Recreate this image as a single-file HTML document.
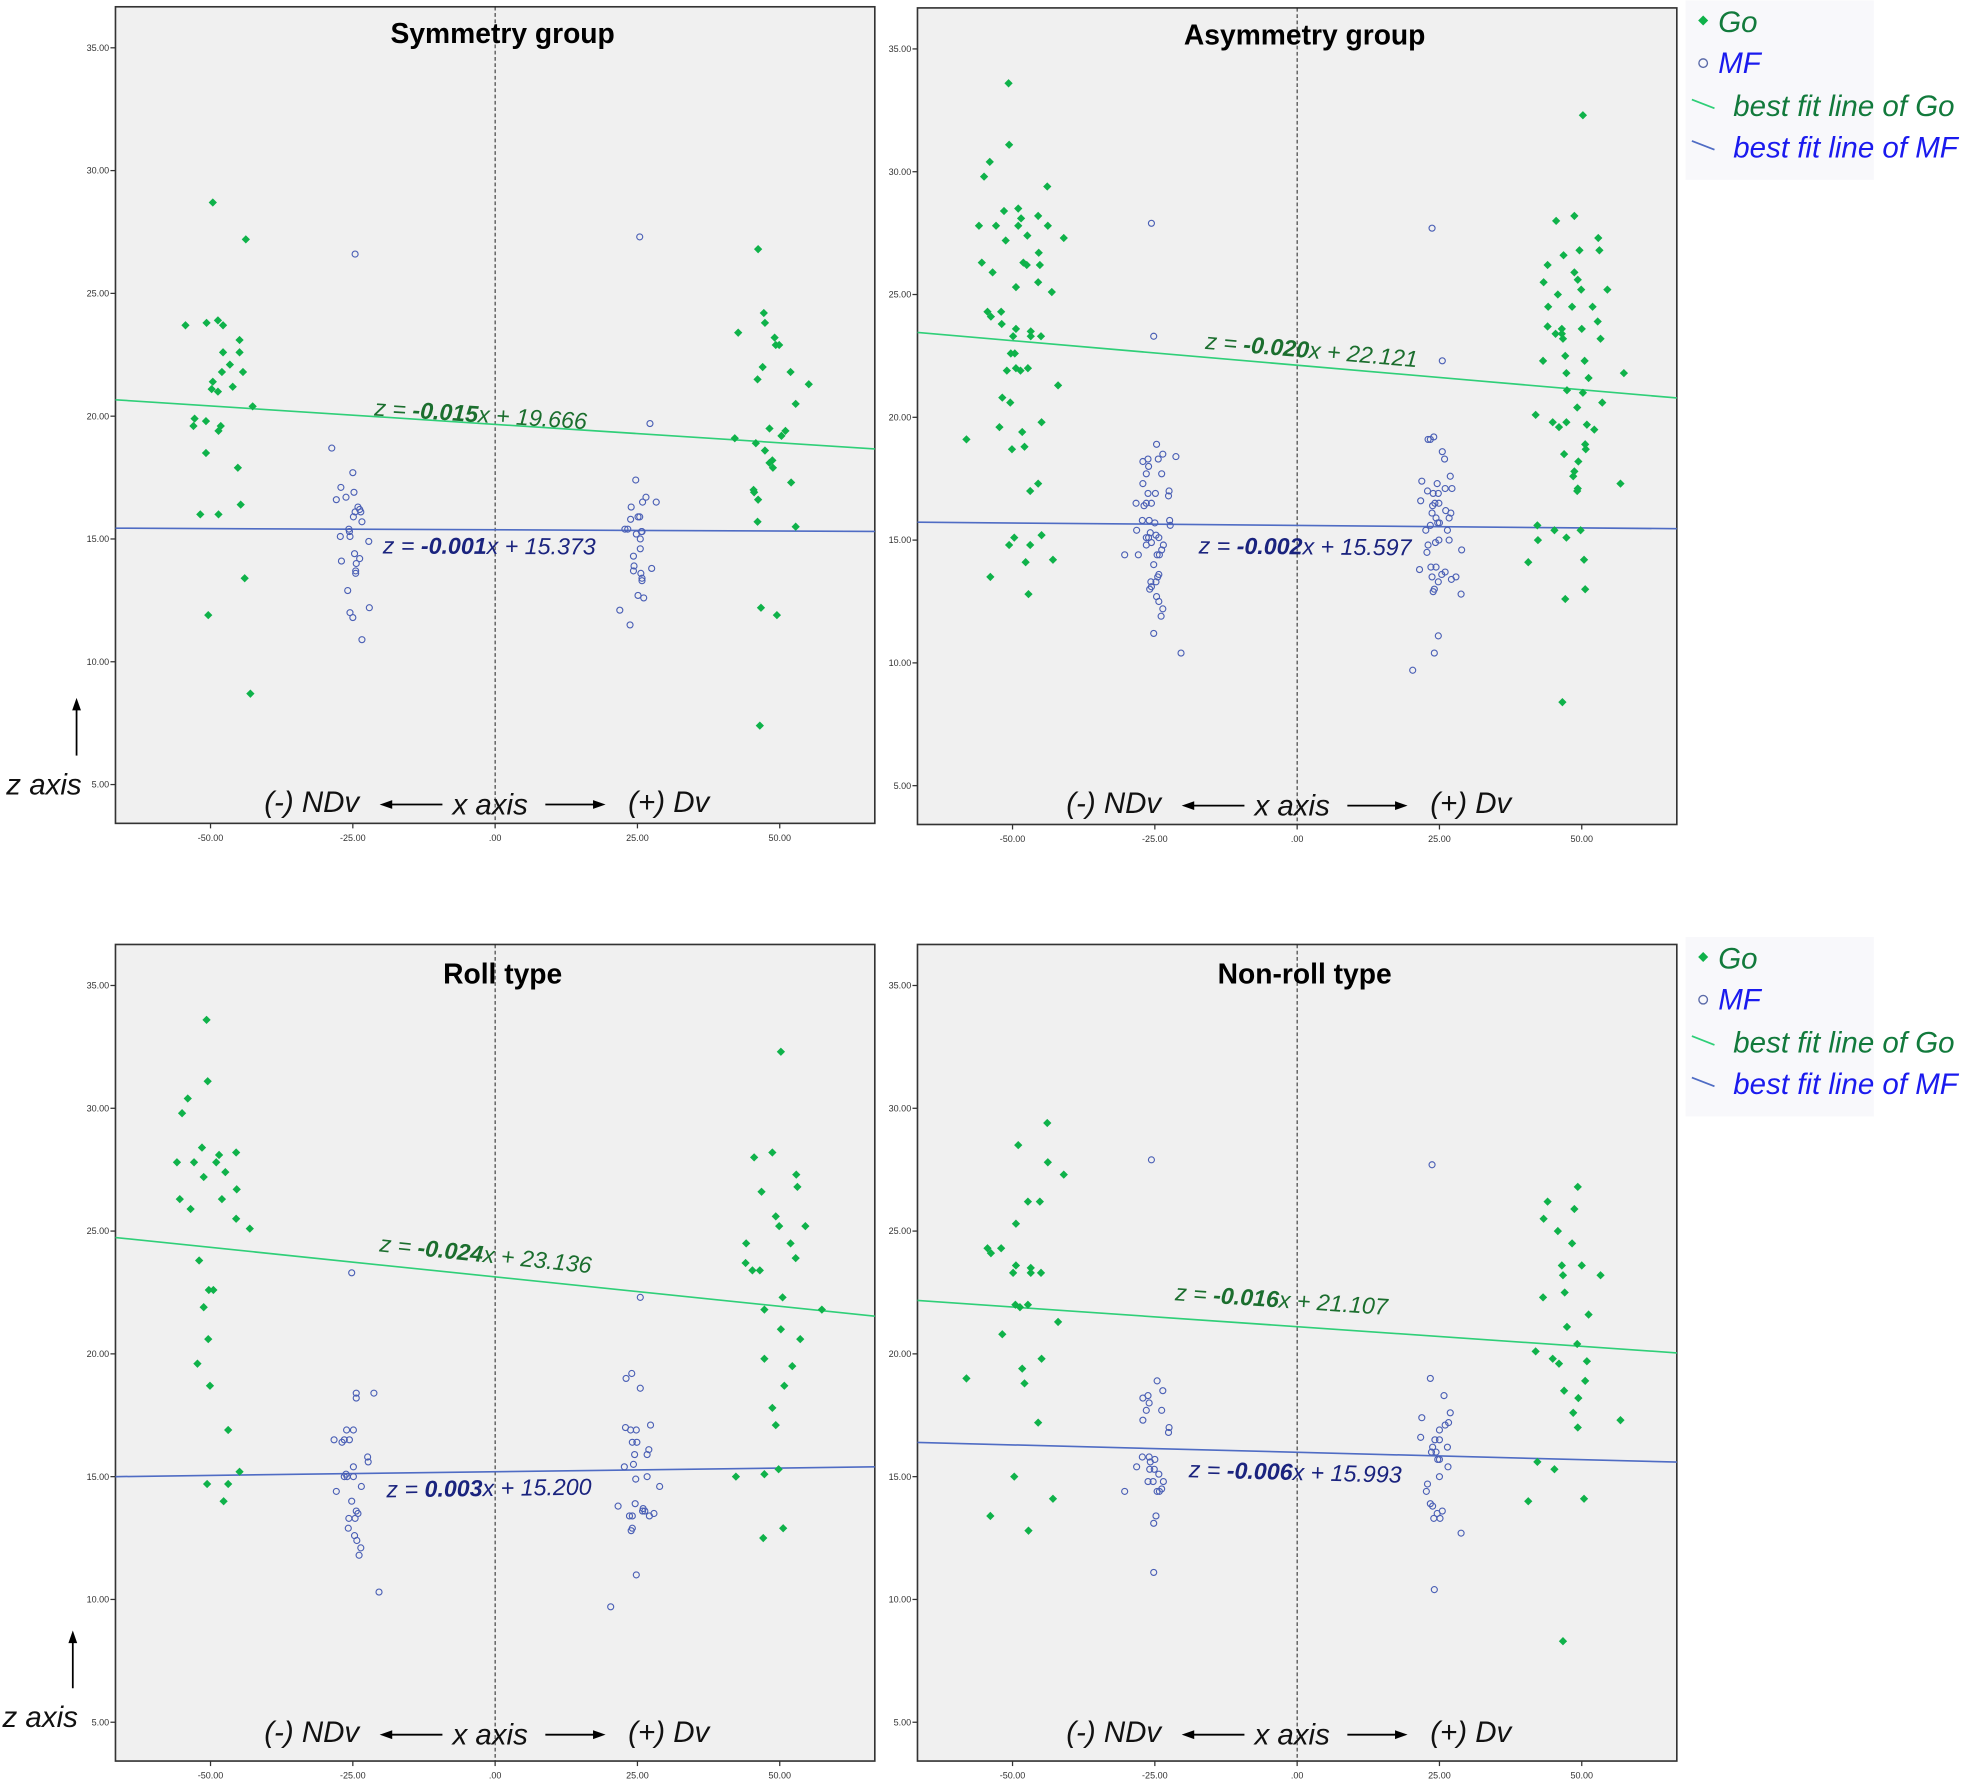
<!DOCTYPE html>
<html><head><meta charset="utf-8"><style>
html,body{margin:0;padding:0;background:#fff;}
svg{display:block;font-family:"Liberation Sans",Arial,sans-serif;}
</style></head><body>
<svg id="chart" width="1968" height="1779" viewBox="0 0 1568 1417.4" xmlns="http://www.w3.org/2000/svg"></svg>
<script>
// ---- data (x in x-axis units, z in z-axis units) ----
const xTicks = [-50, -25, 0, 25, 50];
const xTickLabels = ["-50.00", "-25.00", ".00", "25.00", "50.00"];
const zTicks = [5, 10, 15, 20, 25, 30, 35];
const zTickLabels = ["5.00", "10.00", "15.00", "20.00", "25.00", "30.00", "35.00"];
const panelTitles = ["Symmetry group", "Asymmetry group", "Roll type", "Non-roll type"];
const goSlopes = [-0.015, -0.020, -0.024, -0.016];
const goIntercepts = [19.666, 22.121, 23.136, 21.107];
const mfSlopes = [-0.001, -0.002, 0.003, -0.006];
const mfIntercepts = [15.373, 15.597, 15.200, 15.993];
const goSlopeLabels = ["-0.015", "-0.020", "-0.024", "-0.016"];
const goIntLabels = ["19.666", "22.121", "23.136", "21.107"];
const mfSlopeLabels = ["-0.001", "-0.002", "0.003", "-0.006"];
const mfIntLabels = ["15.373", "15.597", "15.200", "15.993"];

const symGo = [[-49.6,28.7],[-43.8,27.2],[-54.4,23.7],[-50.7,23.8],[-48.7,23.9],[-47.8,23.7],[-44.9,23.1],[-47.8,22.6],[-44.9,22.6],[-46.6,22.1],[-48,21.8],[-44.3,21.8],[-49.6,21.4],[-46.1,21.2],[-49.8,21.1],[-48.7,21.0],[-42.6,20.4],[-52.8,19.9],[-53,19.6],[-50.8,19.8],[-48.2,19.6],[-48.6,19.4],[-50.8,18.5],[-45.2,17.9],[-44.7,16.4],[-51.8,16.0],[-48.6,16.0],[-44,13.4],[-50.4,11.9],[-43,8.7],
[46.2,26.8],[47.2,24.2],[47.4,23.8],[42.7,23.4],[49.1,23.2],[49.3,22.9],[49.9,22.9],[47,22],[51.9,21.8],[46.1,21.5],[55.1,21.3],[52.8,20.5],[48.2,19.5],[51,19.4],[50.3,19.2],[42.1,19.1],[45.8,18.9],[47.4,18.6],[48.7,18.2],[48.2,18.1],[48.8,17.9],[52,17.3],[45.4,17.0],[45.5,16.9],[46.2,16.6],[46.1,15.7],[52.8,15.5],[46.7,12.2],[49.5,11.9],[46.5,7.4]];
const symMF = [[-24.6,26.6],[-28.7,18.7],[-25,17.7],[-27.1,17.1],[-24.8,16.9],[-27.9,16.6],[-26.2,16.7],[-24.1,16.3],[-23.8,16.2],[-24.6,16.1],[-23.6,16.1],[-24.9,15.9],[-23.4,15.7],[-25.7,15.4],[-25.6,15.3],[-27.2,15.1],[-25.5,15.1],[-22.2,14.9],[-24.7,14.4],[-23.8,14.2],[-27,14.1],[-24.4,14.0],[-24.5,13.7],[-24.5,13.6],[-25.9,12.9],[-25.5,12.0],[-25,11.8],[-22.1,12.2],[-23.4,10.9],
[25.4,27.3],[27.2,19.7],[24.7,17.4],[23.9,16.3],[26.5,16.7],[25.9,16.5],[28.3,16.5],[25.1,15.9],[25.4,15.9],[23.8,15.8],[22.8,15.4],[23.3,15.4],[25.7,15.3],[25.8,15.3],[24.8,15.2],[25.5,15.0],[25.5,14.6],[24.3,14.3],[24.4,13.9],[24.3,13.7],[27.5,13.8],[25.6,13.6],[25.8,13.4],[25.8,13.3],[25.1,12.7],[26.1,12.6],[21.9,12.1],[23.7,11.5]];
const asymGo = [[-50.7,33.6],[-50.6,31.1],[-54,30.4],[-55,29.8],[-43.9,29.4],[-49,28.5],[-51.5,28.4],[-48.5,28.1],[-45.5,28.2],[-55.9,27.8],[-52.9,27.8],[-49,27.8],[-43.8,27.8],[-47.4,27.4],[-41,27.3],[-51.2,27.2],[-45.4,26.7],[-55.4,26.3],[-48.1,26.3],[-47.5,26.2],[-45.2,26.2],[-53.5,25.9],[-45.5,25.5],[-49.4,25.3],[-43.1,25.1],[-54.4,24.3],[-52,24.3],[-53.8,24.1],[-51.9,23.8],[-49.4,23.6],[-46.8,23.5],[-49.9,23.3],[-46.8,23.3],[-45,23.3],[-50.3,22.6],[-49.6,22.6],[-47.3,22.0],[-49.4,22.0],[-51,21.9],[-48.6,21.9],[-42,21.3],[-51.8,20.8],[-50.4,20.6],[-58.1,19.1],[-52.3,19.6],[-44.9,19.8],[-48.3,19.4],[-47.9,18.8],[-50.1,18.7],[-45.5,17.3],[-46.9,17.0],[-49.7,15.1],[-50.6,14.8],[-46.9,14.8],[-44.9,15.2],[-47.7,14.1],[-42.9,14.2],[-53.9,13.5],[-47.2,12.8],
[50.2,32.3],[45.5,28.0],[48.7,28.2],[52.9,27.3],[49.6,26.8],[53.1,26.8],[46.8,26.6],[44,26.2],[48.7,25.9],[49.3,25.6],[43.3,25.5],[49.9,25.2],[54.5,25.2],[45.8,25.0],[44.1,24.5],[48.3,24.5],[51.9,24.5],[52.8,23.9],[44,23.7],[46.5,23.6],[50,23.6],[45.4,23.4],[46.5,23.4],[46.7,23.2],[53.3,23.2],[47.1,22.5],[43.2,22.3],[50.5,22.3],[47.3,21.8],[57.4,21.8],[51.2,21.6],[47.4,21.1],[50.2,21.0],[53.6,20.6],[49.2,20.4],[41.9,20.1],[44.9,19.8],[47.3,19.8],[50.9,19.7],[46,19.6],[52.2,19.5],[50.6,18.9],[50.7,18.7],[46.9,18.5],[49.4,18.2],[48.7,17.8],[48.5,17.6],[56.8,17.3],[49.3,17.1],[49.2,17.0],[42.2,15.6],[45.2,15.4],[49.8,15.4],[42.3,15.0],[47.3,15.1],[40.6,14.1],[50.4,14.2],[50.6,13.0],[47.1,12.6],[46.6,8.4]];
const asymMF = [[-25.6,27.9],[-25.2,23.3],[-24.7,18.9],[-23.6,18.5],[-21.3,18.4],[-24.4,18.3],[-26.2,18.3],[-27.1,18.2],[-26.1,18.0],[-26.5,17.7],[-23.8,17.7],[-27.1,17.3],[-22.5,17.0],[-26.2,16.9],[-24.9,16.9],[-22.6,16.8],[-28.3,16.5],[-26.9,16.4],[-25.6,16.5],[-26.5,16.5],[-22.4,15.8],[-27.2,15.8],[-26,15.8],[-25,15.7],[-22.3,15.6],[-28.2,15.4],[-25.8,15.3],[-24.8,15.2],[-26.5,15.1],[-26.1,15.1],[-24.3,15.1],[-25.6,14.9],[-23.5,14.8],[-26.5,14.8],[-23.8,14.6],[-24.6,14.4],[-30.3,14.4],[-27.9,14.4],[-24.2,14.4],[-25.2,14.0],[-24.3,13.6],[-24.5,13.5],[-25.7,13.3],[-24.8,13.3],[-25.6,13.1],[-25.9,13.0],[-24.7,12.7],[-24.3,12.5],[-23.6,12.2],[-23.9,11.9],[-25.2,11.2],[-20.4,10.4],
[23.7,27.7],[25.5,22.3],[24,19.2],[23,19.1],[23.4,19.1],[25.5,18.6],[25.9,18.3],[26.9,17.6],[21.9,17.4],[24.6,17.3],[27.2,17.1],[26,17.1],[22.9,17.0],[23.9,16.9],[24.8,16.9],[24.2,16.5],[24.9,16.5],[21.7,16.6],[23.8,16.4],[26.1,16.2],[23.7,16.1],[27,16.1],[24.4,15.9],[26.7,15.9],[24.7,15.7],[25,15.7],[23.4,15.6],[22.6,15.4],[26.4,15.4],[24.9,15.0],[26.7,15.0],[24.3,14.9],[23,14.8],[22.8,14.5],[28.9,14.6],[21.5,13.8],[23.5,13.9],[24.4,13.9],[26,13.7],[25.4,13.6],[27.9,13.5],[23.7,13.5],[24.8,13.3],[27.1,13.4],[24.1,13.0],[23.9,12.9],[28.8,12.8],[24.8,11.1],[24.1,10.4],[20.3,9.7]];
const rollGo = [[-50.7,33.6],[-50.5,31.1],[-54,30.4],[-55,29.8],[-51.5,28.4],[-48.5,28.1],[-45.5,28.2],[-55.9,27.8],[-52.9,27.8],[-49,27.8],[-47.4,27.4],[-51.2,27.2],[-45.4,26.7],[-55.4,26.3],[-48,26.3],[-53.5,25.9],[-45.5,25.5],[-43.1,25.1],[-52,23.8],[-50.3,22.6],[-49.5,22.6],[-51.2,21.9],[-50.4,20.6],[-52.3,19.6],[-50.1,18.7],[-46.9,16.9],[-44.9,15.2],[-50.6,14.7],[-46.9,14.7],[-47.7,14.0],
[50.2,32.3],[48.7,28.2],[45.5,28.0],[52.9,27.3],[53.1,26.8],[46.8,26.6],[49.3,25.6],[49.9,25.2],[54.5,25.2],[44.1,24.5],[51.9,24.5],[52.8,23.9],[44,23.7],[45.2,23.4],[46.5,23.4],[50.5,22.3],[47.3,21.8],[57.4,21.8],[50.2,21.0],[53.6,20.6],[47.3,19.8],[52.2,19.5],[50.8,18.7],[48.7,17.8],[49.3,17.1],[42.3,15.0],[47.3,15.1],[49.8,15.3],[50.6,12.9],[47.1,12.5]];
const rollMF = [[-25.2,23.3],[-24.4,18.4],[-24.4,18.2],[-21.3,18.4],[-26.1,16.9],[-24.9,16.9],[-28.3,16.5],[-26.9,16.4],[-26.5,16.5],[-25.6,16.5],[-22.4,15.8],[-22.3,15.6],[-24.9,15.4],[-26.2,15.1],[-26,15.0],[-24.9,15.0],[-26.5,15.0],[-23.5,14.6],[-27.9,14.4],[-25.2,14.0],[-24.4,13.6],[-24.1,13.5],[-25.7,13.3],[-24.6,13.3],[-25.8,12.9],[-24.7,12.6],[-24.3,12.4],[-23.6,12.1],[-23.9,11.8],[-20.4,10.3],
[25.5,22.3],[24,19.2],[23,19.0],[25.5,18.6],[27.3,17.1],[22.9,17.0],[23.8,16.9],[24.8,16.9],[24.1,16.4],[24.9,16.4],[27,16.1],[26.7,15.9],[24.5,15.9],[24.3,15.5],[22.7,15.4],[26.7,15.0],[24.7,14.9],[28.9,14.6],[21.6,13.8],[24.6,13.9],[26,13.7],[26.3,13.6],[23.6,13.4],[24.1,13.4],[27.1,13.4],[27.9,13.5],[25.9,13.6],[24.1,12.9],[23.9,12.8],[24.8,11.0],[20.3,9.7]];
const nonrollGo = [[-43.9,29.4],[-49,28.5],[-43.8,27.8],[-41,27.3],[-47.3,26.2],[-45.2,26.2],[-49.4,25.3],[-54.4,24.3],[-52,24.3],[-53.8,24.1],[-49.4,23.6],[-46.8,23.5],[-49.9,23.3],[-46.8,23.3],[-45,23.3],[-49.5,22.0],[-48.7,21.9],[-47.3,22.0],[-42,21.3],[-51.8,20.8],[-58.1,19.0],[-44.9,19.8],[-48.3,19.4],[-47.9,18.8],[-45.5,17.2],[-49.7,15.0],[-42.9,14.1],[-53.9,13.4],[-47.2,12.8],
[49.3,26.8],[44,26.2],[48.7,25.9],[43.3,25.5],[45.8,25.0],[48.3,24.5],[46.5,23.6],[50,23.6],[46.7,23.2],[53.3,23.2],[47,22.5],[43.2,22.3],[51.2,21.6],[47.4,21.1],[49.2,20.4],[41.9,20.1],[44.9,19.8],[46,19.6],[50.9,19.7],[50.6,18.9],[46.9,18.5],[49.4,18.2],[48.5,17.6],[56.8,17.3],[49.3,17.0],[42.2,15.6],[45.2,15.3],[40.6,14.0],[50.4,14.1],[46.7,8.3]];
const nonrollMF = [[-25.6,27.9],[-24.6,18.9],[-23.6,18.5],[-26.2,18.3],[-27.1,18.2],[-26,18.0],[-26.5,17.7],[-23.8,17.7],[-27.1,17.3],[-22.5,17.0],[-22.6,16.8],[-27.2,15.8],[-26,15.8],[-25,15.7],[-25.8,15.6],[-28.2,15.4],[-25.9,15.3],[-25.1,15.3],[-24.3,15.1],[-26.2,14.8],[-25.3,14.8],[-23.5,14.8],[-23.8,14.5],[-24.6,14.4],[-30.3,14.4],[-24.2,14.4],[-24.8,13.4],[-25.2,13.1],[-25.2,11.1],
[23.7,27.7],[23.4,19.0],[25.8,18.3],[26.9,17.6],[21.9,17.4],[26.6,17.2],[26,17.1],[25,16.9],[21.7,16.6],[24.2,16.5],[25,16.5],[23.8,16.2],[26.4,16.2],[23.6,16.0],[24.4,16.0],[24.7,15.7],[25,15.7],[26.5,15.4],[25,15.0],[22.9,14.7],[22.7,14.4],[23.4,13.9],[23.8,13.8],[24.6,13.5],[25.5,13.6],[24,13.3],[25.1,13.3],[28.8,12.7],[24.1,10.4]];

const goSets = [symGo, asymGo, rollGo, nonrollGo];
const mfSets = [symMF, asymMF, rollMF, nonrollMF];

// ---- layout ----
const NS = "http://www.w3.org/2000/svg";
const svg = document.getElementById('chart');
const panels = [
  {l:92, t:5.4, name:'symmetry'},
  {l:731, t:6.3, name:'asymmetry'},
  {l:92, t:752.5, name:'roll'},
  {l:731, t:752.5, name:'non-roll'}
];
const PW = 605, PH = 650.6;
const X0 = -66.7, X1 = 66.7, Z0 = 3.42, Z1 = 36.67;
const eqPos = [
  {gx:298, gy:331, mx:305, my:441},
  {gx:960, gy:278, mx:955, my:441},
  {gx:302, gy:997, mx:308, my:1193},
  {gx:936, gy:1036, mx:947, my:1177}
];
function el(tag, attrs, parent){
  const e = document.createElementNS(NS, tag);
  for (const k in attrs) e.setAttribute(k, attrs[k]);
  (parent||svg).appendChild(e);
  return e;
}

panels.forEach((p, i) => {
  const sx = v => p.l + (v - X0) / (X1 - X0) * PW;
  const sz = v => p.t + (Z1 - v) / (Z1 - Z0) * PH;
  const g = el('g', {});
  
  
  const bg = el('rect', {x:p.l, y:p.t, width:PW, height:PH, fill:'#f0f0f0', stroke:'#333', 'stroke-width':1.3}, g);
  
  
  const cl = el('line', {x1:sx(0), x2:sx(0), y1:p.t, y2:p.t+PH, stroke:'#222', 'stroke-width':0.8, 'stroke-dasharray':'3,2'}, g);
  
  
  zTicks.forEach((v, k) => {
    el('line', {x1:p.l-4, x2:p.l, y1:sz(v), y2:sz(v), stroke:'#333', 'stroke-width':1}, g);
    const t = el('text', {x:p.l-5, y:sz(v)+2.5, 'text-anchor':'end', 'font-size':7.2, fill:'#333'}, g);
    
    
    t.textContent = zTickLabels[k];
  });
  xTicks.forEach((v, k) => {
    el('line', {x1:sx(v), x2:sx(v), y1:p.t+PH, y2:p.t+PH+4, stroke:'#333', 'stroke-width':1}, g);
    const t = el('text', {x:sx(v), y:p.t+PH+14, 'text-anchor':'middle', 'font-size':7.2, fill:'#333'}, g);
    
    
    t.textContent = xTickLabels[k];
  });
  const tt = el('text', {x:sx(0)+6, y:p.t+(i<2?29:31), 'text-anchor':'middle', 'font-size':22.5, 'font-weight':'bold', fill:'#000'}, g);
  
  
  tt.textContent = panelTitles[i];
  const gl = el('line', {x1:sx(X0), y1:sz(goIntercepts[i]+goSlopes[i]*X0), x2:sx(X1), y2:sz(goIntercepts[i]+goSlopes[i]*X1), stroke:'#2fcf78', 'stroke-width':1.3}, g);
  
  
  const ml = el('line', {x1:sx(X0), y1:sz(mfIntercepts[i]+mfSlopes[i]*X0), x2:sx(X1), y2:sz(mfIntercepts[i]+mfSlopes[i]*X1), stroke:'#4f6cc4', 'stroke-width':1.3}, g);
  
  
  goSets[i].forEach(d => {
    const cx = sx(d[0]), cy = sz(d[1]), r = 3.3;
    const pt = el('polygon', {points:`${cx},${cy-r} ${cx+r},${cy} ${cx},${cy+r} ${cx-r},${cy}`, fill:'#0fb24a'}, g);
    
    
  });
  mfSets[i].forEach(d => {
    const pt = el('circle', {cx:sx(d[0]), cy:sz(d[1]), r:2.4, fill:'none', stroke:'#4a5fb5', 'stroke-width':0.9}, g);
    
    
  });
  const e = eqPos[i];
  const gAng = Math.atan(-goSlopes[i] * (PH/(Z1-Z0)) / (PW/(X1-X0))) * 180/Math.PI;
  const mAng = Math.atan(-mfSlopes[i] * (PH/(Z1-Z0)) / (PW/(X1-X0))) * 180/Math.PI;
  const ge = el('text', {x:e.gx, y:e.gy, 'font-size':18.5, 'font-style':'italic', fill:'#1b6e2e', transform:`rotate(${gAng} ${e.gx} ${e.gy})`}, g);
  
  
  ge.innerHTML = `z = <tspan font-weight="bold">${goSlopeLabels[i]}</tspan>x + ${goIntLabels[i]}`;
  const me = el('text', {x:e.mx, y:e.my, 'font-size':18.5, 'font-style':'italic', fill:'#1a237e', transform:`rotate(${mAng} ${e.mx} ${e.my})`}, g);
  
  
  me.innerHTML = `z = <tspan font-weight="bold">${mfSlopeLabels[i]}</tspan>x + ${mfIntLabels[i]}`;
  const by = p.t + PH - (i < 2 ? 9 : 15);
  const a1 = el('text', {x:sx(0)-184, y:by, 'font-size':23.5, 'font-style':'italic', fill:'#111'}, g);
  
  
  a1.textContent = '(-) NDv';
  const a2 = el('text', {x:sx(0)-34, y:by+2, 'font-size':23.5, 'font-style':'italic', fill:'#111'}, g);
  
  
  a2.textContent = 'x axis';
  const a3 = el('text', {x:sx(0)+106, y:by, 'font-size':23.5, 'font-style':'italic', fill:'#111'}, g);
  
  
  a3.textContent = '(+) Dv';
  const ay = by - 6;
  el('line', {x1:sx(0)-42, x2:sx(0)-88, y1:ay, y2:ay, stroke:'#000', 'stroke-width':1.4}, g);
  el('polygon', {points:`${sx(0)-92},${ay} ${sx(0)-82},${ay-3.5} ${sx(0)-82},${ay+3.5}`, fill:'#000'}, g);
  el('line', {x1:sx(0)+40, x2:sx(0)+84, y1:ay, y2:ay, stroke:'#000', 'stroke-width':1.4}, g);
  el('polygon', {points:`${sx(0)+88},${ay} ${sx(0)+78},${ay-3.5} ${sx(0)+78},${ay+3.5}`, fill:'#000'}, g);
  if (i % 2 === 0) {
    const zx = i === 0 ? 61 : 58;
    const zy = p.t + PH - (i === 0 ? 23 : 27);
    const zt = el('text', {x:i===0?5:2, y:zy, 'font-size':23.5, 'font-style':'italic', fill:'#111'}, g);
    
    
    zt.textContent = 'z axis';
    el('line', {x1:zx, x2:zx, y1:zy-31, y2:zy-73, stroke:'#000', 'stroke-width':1.4}, g);
    el('polygon', {points:`${zx},${zy-77} ${zx-3.5},${zy-67} ${zx+3.5},${zy-67}`, fill:'#000'}, g);
  }
  if (i % 2 === 1) {
    const ly = p.t;
    const lg = el('g', {}, g);
    
    
    el('rect', {x:1343, y:ly-6, width:150, height:143, fill:'#f8f8fb'}, lg);
    const r = 4;
    el('polygon', {points:`1357,${ly+6} ${1357+r},${ly+10} 1357,${ly+14} ${1357-r},${ly+10}`, fill:'#0fb24a'}, lg);
    const t1 = el('text', {x:1369, y:ly+19, 'font-size':23.5, 'font-style':'italic', fill:'#127a3c'}, lg);
    
    
    t1.textContent = 'Go';
    el('circle', {cx:1357, cy:ly+44, r:3.4, fill:'none', stroke:'#5a6aa8', 'stroke-width':1.1}, lg);
    const t2 = el('text', {x:1369, y:ly+52, 'font-size':23.5, 'font-style':'italic', fill:'#1a1aee'}, lg);
    
    
    t2.textContent = 'MF';
    el('line', {x1:1348, y1:ly+73, x2:1366, y2:ly+80, stroke:'#2fcf78', 'stroke-width':1.4}, lg);
    const t3 = el('text', {x:1381, y:ly+86, 'font-size':23.5, 'font-style':'italic', fill:'#127a3c'}, lg);
    
    
    t3.textContent = 'best fit line of Go';
    el('line', {x1:1348, y1:ly+106, x2:1366, y2:ly+113, stroke:'#4f6cc4', 'stroke-width':1.4}, lg);
    const t4 = el('text', {x:1381, y:ly+119, 'font-size':23.5, 'font-style':'italic', fill:'#1a1aee'}, lg);
    
    
    t4.textContent = 'best fit line of MF';
  }
});
</script>
</body></html>
